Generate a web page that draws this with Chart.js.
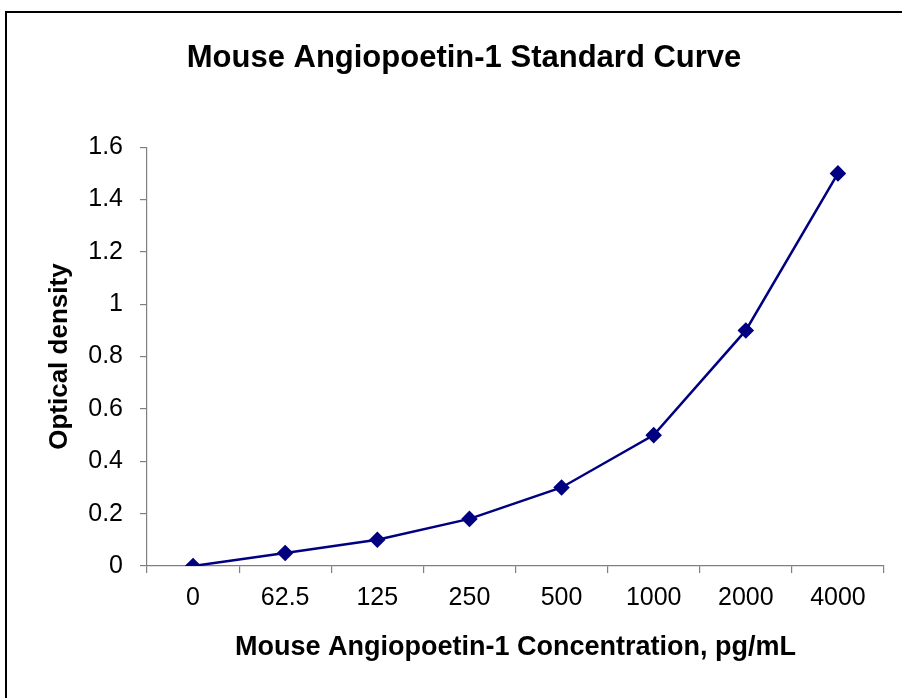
<!DOCTYPE html>
<html>
<head>
<meta charset="utf-8">
<script src="https://cdn.jsdelivr.net/npm/chart.js@4/dist/chart.umd.min.js"></script>
<style>
  html, body { margin: 0; padding: 0; background: #fff; overflow: hidden; }
  #wrap { position: relative; width: 902px; height: 698px; overflow: hidden; }
  #frame { position: absolute; left: 5px; top: 11px; width: 920px; height: 720px; border: 2px solid #000; box-sizing: border-box; }
  #box { position: absolute; left: 0; top: 0; width: 928px; height: 698px; }
</style>
</head>
<body>
<div id="wrap">
  <div id="frame"></div>
  <div id="box"><canvas id="lineChart"></canvas></div>
</div>
<script>
// 標準曲線のデータ
const concentrations = ['0', '62.5', '125', '250', '500', '1000', '2000', '4000']; // pg/mL
const opticalDensity = [0, 0.05, 0.1, 0.18, 0.3, 0.5, 0.9, 1.5];
const yTicks = [0, 0.2, 0.4, 0.6, 0.8, 1, 1.2, 1.4, 1.6];

const font = 'Liberation Sans, Arial, sans-serif';
const axisGray = '#808080';

const ctx = document.getElementById('lineChart').getContext('2d');
const lineChart = new Chart(ctx, {
    type: 'line',
    data: {
        labels: concentrations,
        datasets: [{
            data: opticalDensity,
            borderColor: '#000080',
            backgroundColor: '#000080',
            borderWidth: 2.5,
            pointStyle: 'rectRot',
            pointRadius: 6.5,
            pointHoverRadius: 6.5,
            tension: 0,
            fill: false
        }]
    },
    options: {
        responsive: true,
        maintainAspectRatio: false,
        animation: false,
        layout: {
            padding: { left: 44, right: 44, top: 0, bottom: 0 }
        },
        plugins: {
            legend: { display: false },
            tooltip: { enabled: false },
            title: {
                display: true,
                text: 'Mouse Angiopoetin-1 Standard Curve',
                color: '#000',
                font: { family: font, size: 31, weight: 'bold' },
                padding: { top: 40, bottom: 70 }
            }
        },
        scales: {
            x: {
                type: 'category',
                offset: true,
                afterFit: axis => { axis.height = 132; },
                grid: {
                    offset: true,
                    drawOnChartArea: false,
                    tickLength: 7,
                    color: axisGray,
                    lineWidth: 1.2
                },
                border: { color: axisGray, width: 1.2 },
                ticks: {
                    color: '#000',
                    font: { family: font, size: 25 },
                    padding: 10,
                    maxRotation: 0
                },
                title: {
                    display: true,
                    text: 'Mouse Angiopoetin-1 Concentration, pg/mL',
                    color: '#000',
                    font: { family: font, size: 27, weight: 'bold' },
                    padding: { top: 0, bottom: 34 }
                }
            },
            y: {
                min: 0,
                max: 1.6,
                afterBuildTicks: axis => { axis.ticks = yTicks.map(v => ({ value: v })); },
                afterFit: axis => { axis.width = 103; },
                grid: {
                    drawOnChartArea: false,
                    tickLength: 7,
                    color: axisGray,
                    lineWidth: 1.2
                },
                border: { color: axisGray, width: 1.2 },
                ticks: {
                    color: '#000',
                    font: { family: font, size: 25 },
                    padding: 17,
                    callback: v => String(+v.toFixed(1))
                },
                title: {
                    display: true,
                    text: 'Optical density',
                    color: '#000',
                    font: { family: font, size: 26, weight: 'bold' },
                    padding: { top: 0, bottom: 0 }
                }
            }
        }
    }
});
</script>
</body>
</html>
